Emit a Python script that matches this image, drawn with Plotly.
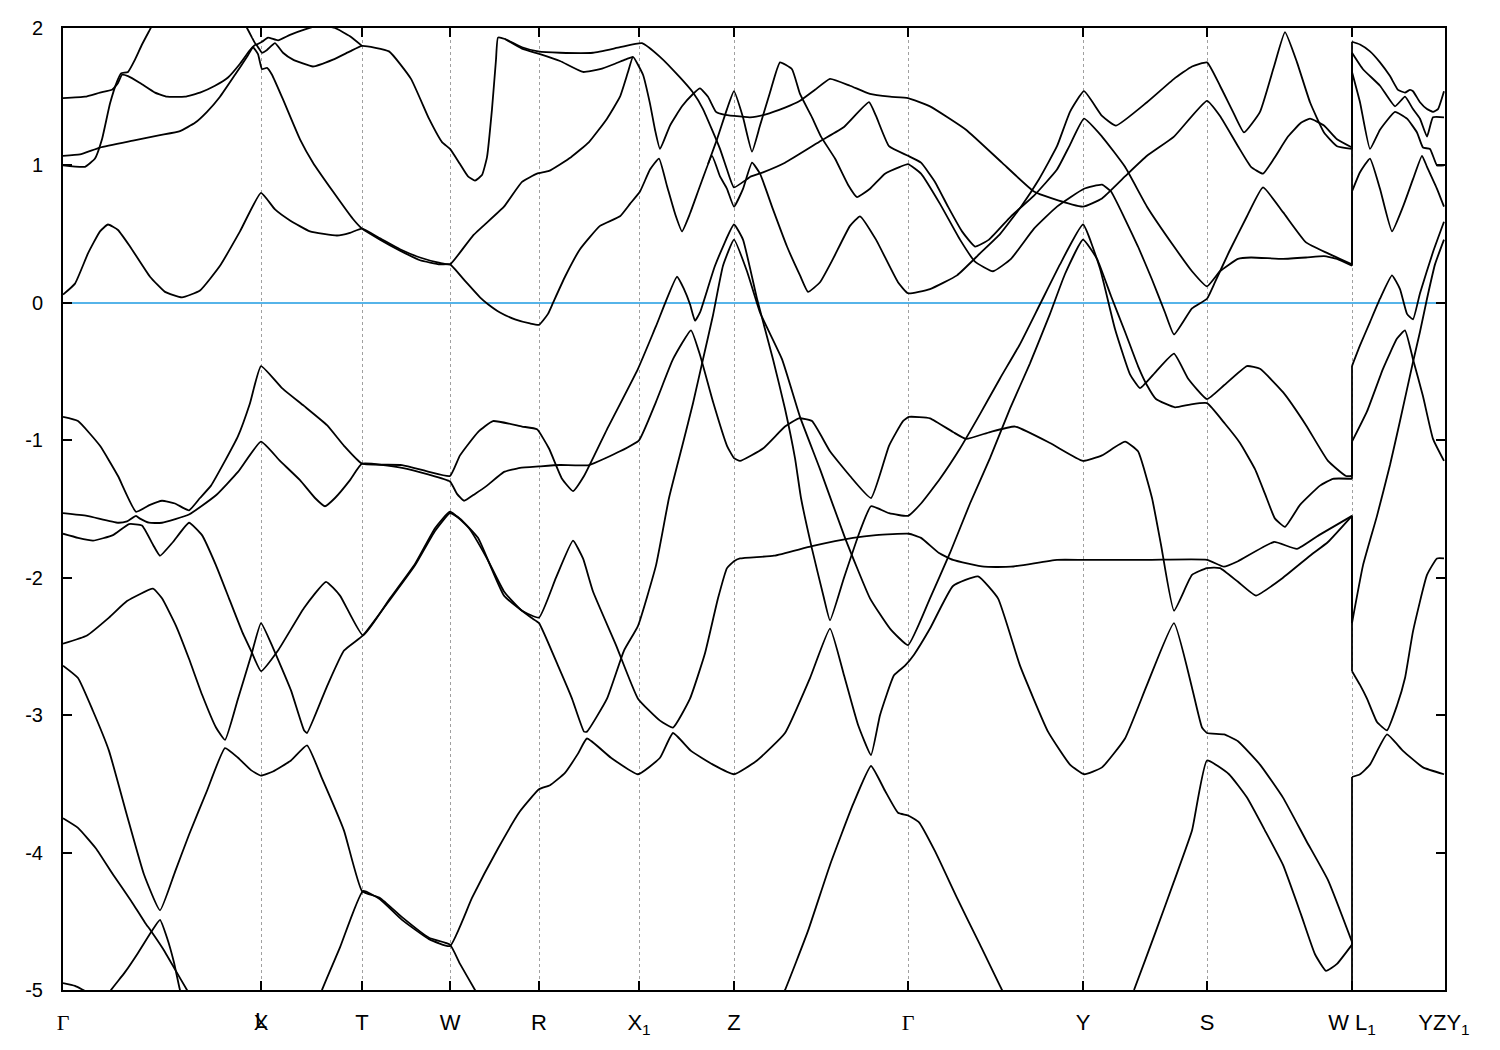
import plotly.graph_objects as go

# ---------------- k-path (path distance units) ----------------
kpts = [0, 198, 299, 387, 476, 576, 671, 845, 1020, 1144, 1289, 1381]
klabels = ['<span style="font-family:Liberation Serif">Γ</span>', "X", "T", "W", "R",
           "X<sub>1</sub>", "Z", '<span style="font-family:Liberation Serif">Γ</span>',
           "Y", "S", "W L<sub>1</sub>", "YZY<sub>1</sub>"]
k_overlap = 198          # L coincides with X on the path
k_overlap_label = "L"

e_ticks = [-5, -4, -3, -2, -1, 0, 1, 2]
e_ticktext = ["-5", "-4", "-3", "-2", "-1", "0", "1", "2"]

# ---------------- bands (k, E in eV) ----------------
band_a_k = [0,12,25,37,45,55,67,87,102,119,137,157,177,198,212,227,247,274,287,299,317,337,357,377,387,410,441,459,474,486,
            508,526,544,557,565,570,580,587,592,597,607,619,630,637,645,653,661,671,687,702,722,737,752,767,787,807,827,845,867,903,
            939,971,989,1020,1039,1062,1084,1111,1144,1157,1175,1188,1200,1211,1225,1238,1247,1261,1274,1289,1289,1300,1317,1332,1342,1350,1357,1364,1370,1381]
band_a_e = [0.06,0.14,0.36,0.52,0.57,0.53,0.41,0.19,0.08,0.04,0.09,0.27,0.52,0.80,0.68,0.60,0.52,0.49,0.51,0.54,0.47,0.39,0.33,0.29,0.28,0.49,0.70,0.88,0.94,0.96,
            1.06,1.17,1.34,1.50,1.68,1.79,1.66,1.45,1.26,1.12,1.29,1.43,1.52,1.56,1.50,1.39,1.37,1.36,1.35,1.37,1.42,1.47,1.55,1.63,1.58,1.52,1.50,1.49,1.43,1.26,
            1.02,0.81,0.76,0.70,0.76,0.92,1.07,1.21,1.47,1.36,1.14,0.99,0.94,1.05,1.21,1.31,1.34,1.29,1.19,1.13,1.82,1.70,1.58,1.43,1.50,1.41,1.34,1.21,1.35,1.35]

band_b_k = [0,22,32,39,47,54,58,65,72,79,87,95]
band_b_e = [1.00,0.99,1.05,1.19,1.45,1.61,1.67,1.68,1.77,1.88,1.99,2.10]

band_c_k = [0,22,37,49,55,59,65,77,92,104,122,137,152,165,177,187,193,199,204,212,220,230,250,270,287,299,326,348,366,379,387,
            397,405,412,419,424,429,433,435,442,459,475,497,530,557,579,597,617,630,640,649,657,664,671,
            688,700,722,758,781,806,813,826,845,
            858,872,885,899,912,926,948,971,994,1007,1021,
            1039,1062,1084,1111,1129,1144,1157,1175,1188,1220,1243,1261,1274,1289,
            1289,1297,1307,1317,1329,1340,1350,1359,1364,1374,1381]
band_c_e = [1.49,1.50,1.53,1.55,1.60,1.66,1.65,1.60,1.53,1.50,1.50,1.53,1.58,1.64,1.74,1.84,1.88,1.82,1.84,1.89,1.82,1.77,1.72,1.77,1.83,1.87,1.83,1.63,1.34,1.17,1.12,
            1.01,0.92,0.89,0.93,1.06,1.41,1.77,1.93,1.92,1.86,1.83,1.82,1.82,1.86,1.89,1.79,1.64,1.53,1.41,1.26,1.12,0.97,0.84,
            0.92,0.95,1.02,1.18,1.28,1.46,1.36,1.14,1.07,
            1.02,0.88,0.70,0.52,0.41,0.46,0.63,0.78,0.97,1.15,1.34,
            1.21,0.99,0.70,0.41,0.23,0.12,0.23,0.32,0.33,0.32,0.33,0.34,0.32,0.27,
            0.81,0.95,1.05,0.83,0.52,0.70,0.90,1.07,0.99,0.83,0.70]

band_d_k = [0,17,37,70,97,117,132,144,157,172,184,190,195,199,204,209,220,237,250,270,290,299,
            317,337,357,377,387,402,417,425,437,452,467,476,
            485,490,502,517,537,557,567,577,587,596,604,612,619,627,637,649,657,664,671,
            680,689,697,710,724,737,745,757,770,787,797,813,835,845,
            867,894,917,937,958,976,994,1007,1021,
            1039,1053,1084,1111,1129,1144,1157,1170,1181,1197,1211,1222,1234,1247,1261,1274,1289,
            1289,1297,1307,1317,1327,1335,1342,1347,1350,1357,1364,1370,1375,1381]
band_d_e = [1.07,1.08,1.13,1.18,1.22,1.25,1.31,1.39,1.50,1.66,1.79,1.86,1.81,1.70,1.71,1.66,1.48,1.19,1.02,0.81,0.61,0.54,
            0.46,0.38,0.31,0.28,0.28,0.16,0.04,-0.01,-0.07,-0.12,-0.15,-0.16,
            -0.08,0.00,0.19,0.39,0.56,0.63,0.72,0.81,0.97,1.05,0.85,0.65,0.52,0.65,0.85,1.07,0.92,0.83,0.70,
            0.83,1.02,0.94,0.68,0.41,0.20,0.08,0.15,0.32,0.56,0.63,0.46,0.15,0.07,
            0.10,0.20,0.36,0.50,0.70,0.90,1.14,1.39,1.54,
            1.36,1.29,1.46,1.63,1.72,1.75,1.58,1.39,1.24,1.39,1.72,1.97,1.75,1.46,1.24,1.14,1.12,
            1.90,1.88,1.83,1.75,1.65,1.55,1.53,1.55,1.54,1.46,1.41,1.39,1.41,1.54]

band_e_k = [177,184,189,193,199,205,215,227,242,257,272,287,299]
band_e_e = [2.09,2.00,1.93,1.88,1.90,1.93,1.91,1.95,1.99,2.02,2.00,1.94,1.87]

band_g_k = [442,459,477,497,520,537,552,562,570]
band_g_e = [1.92,1.85,1.81,1.76,1.68,1.70,1.74,1.77,1.79]

band_h_k = [645,654,664,671,680,689,697,707,717,729,737,749,758,772,785,794,807,822,837,845,
            858,877,897,912,930,948,971,994,1021,1039,1048,1062,1075,1089,1102,1111,1129,1144,1152,1166,
            1184,1200,1220,1243,1265,1289,1289,1297,1307,1317,1332,1344,1354,1360,1367,1374,1381]
band_h_e = [1.01,1.19,1.41,1.54,1.35,1.10,1.29,1.53,1.75,1.70,1.52,1.35,1.21,1.05,0.86,0.77,0.83,0.94,0.99,1.01,
            0.94,0.72,0.46,0.30,0.23,0.32,0.54,0.70,0.83,0.86,0.81,0.61,0.41,0.17,-0.07,-0.23,-0.04,0.03,0.15,0.37,
            0.63,0.84,0.66,0.44,0.36,0.28,1.68,1.46,1.12,1.26,1.39,1.34,1.24,1.13,1.12,1.00,1.00]

band_j_k = [0,15,37,55,73,87,99,112,126,137,148,162,175,187,198,219,241,264,281,299,339,366,387,
            397,415,430,459,474,486,499,510,521,544,575,593,614,621,627,632,637,652,671,
            680,694,710,722,732,738,749,761,767,781,797,808,826,845,
            858,877,897,917,937,957,977,997,1020,
            1037,1052,1067,1077,1093,1111,1125,1144,1161,1184,1197,1220,1243,1265,1283,1289,
            1289,1297,1307,1317,1329,1337,1344,1350,1357,1370,1381]
band_j_e = [-0.83,-0.86,-1.04,-1.26,-1.52,-1.47,-1.44,-1.46,-1.51,-1.42,-1.33,-1.15,-0.97,-0.73,-0.46,-0.62,-0.75,-0.89,-1.04,-1.17,-1.18,-1.23,-1.26,
            -1.11,-0.94,-0.86,-0.90,-0.92,-1.06,-1.28,-1.37,-1.26,-0.92,-0.48,-0.17,0.19,0.10,-0.01,-0.13,-0.07,0.27,0.57,
            0.46,0.03,-0.41,-0.77,-1.13,-1.42,-1.79,-2.15,-2.31,-2.00,-1.66,-1.48,-1.53,-1.55,
            -1.46,-1.28,-1.06,-0.81,-0.55,-0.30,-0.01,0.28,0.57,
            0.25,-0.19,-0.52,-0.62,-0.50,-0.37,-0.55,-0.70,-0.60,-0.46,-0.48,-0.65,-0.89,-1.15,-1.26,-1.26,
            -0.46,-0.31,-0.14,0.03,0.20,0.10,-0.08,-0.12,0.07,0.37,0.59]

band_k_k = [0,24,55,64,73,77,86,99,126,153,175,198,217,237,252,262,272,287,299,339,366,387,
            394,401,412,424,441,457,476,497,526,557,576,593,610,628,637,650,664,671,
            677,700,722,736,749,767,787,808,826,840,846,
            867,890,903,927,952,987,1020,
            1039,1062,1075,1089,1098,1111,1129,1144,1157,1175,1193,1220,1247,1265,1289,
            1289,1297,1304,1314,1324,1334,1342,1350,1364,1374,1381]
band_k_e = [-1.53,-1.55,-1.60,-1.59,-1.55,-1.57,-1.60,-1.60,-1.54,-1.40,-1.23,-1.01,-1.15,-1.29,-1.42,-1.48,-1.42,-1.29,-1.17,-1.20,-1.25,-1.30,
            -1.39,-1.44,-1.39,-1.33,-1.23,-1.20,-1.19,-1.18,-1.18,-1.08,-1.00,-0.72,-0.41,-0.20,-0.38,-0.72,-1.04,-1.13,
            -1.15,-1.06,-0.90,-0.84,-0.86,-1.08,-1.26,-1.42,-1.04,-0.86,-0.83,
            -0.84,-0.94,-0.99,-0.94,-0.90,-1.02,-1.15,
            -1.11,-1.01,-1.08,-1.42,-1.76,-2.24,-1.98,-1.93,-1.93,-2.03,-2.13,-2.00,-1.84,-1.74,-1.55,
            -2.68,-2.78,-2.88,-3.05,-3.11,-2.93,-2.73,-2.39,-1.98,-1.86,-1.86]

band_l_k = [0,15,30,50,66,79,90,97,110,126,139,153,166,179,188,198,215,241,263,277,300,327,352,372,387,
            406,424,441,459,476,493,510,520,530,553,575,597,610,627,642,655,664,671,
            677,711,749,790,813,846,858,876,890,921,948,994,1021,1087,1144,1161,1175,1211,1234,1256,1289,
            1289,1300,1314,1327,1337,1350,1357,1364,1372,1381]
band_l_e = [-1.68,-1.71,-1.73,-1.69,-1.61,-1.62,-1.76,-1.84,-1.74,-1.60,-1.69,-1.91,-2.15,-2.39,-2.53,-2.68,-2.53,-2.22,-2.03,-2.13,-2.42,-2.15,-1.90,-1.64,-1.52,
            -1.64,-1.86,-2.10,-2.24,-2.29,-2.00,-1.73,-1.86,-2.10,-2.49,-2.88,-3.04,-3.09,-2.88,-2.55,-2.15,-1.93,-1.88,
            -1.86,-1.84,-1.77,-1.71,-1.69,-1.68,-1.71,-1.82,-1.87,-1.92,-1.92,-1.87,-1.87,-1.87,-1.87,-1.92,-1.88,-1.74,-1.79,-1.69,-1.55,
            -2.33,-1.91,-1.55,-1.18,-0.86,-0.43,-0.21,0.03,0.28,0.46]

band_m_k = [0,24,46,64,90,99,113,126,139,153,162,175,188,198,210,228,241,244,264,281,300,327,352,372,387,
            397,415,441,468,476,495,509,521,524,544,561,575,593,606,620,630,640,650,660,671,
            684,697,719,737,757,782,807,827,845,
            867,887,907,927,947,967,987,1002,1020,
            1034,1048,1062,1075,1084,1093,1112,1127,1144,1162,1177,1192,1202,1212,1222,1237,1257,1270,1289,
            1289,1304,1320,1334,1342,1350,1360,1370,1381]
band_m_e = [-2.48,-2.42,-2.29,-2.17,-2.08,-2.15,-2.35,-2.59,-2.85,-3.09,-3.18,-2.88,-2.57,-2.33,-2.51,-2.82,-3.11,-3.13,-2.79,-2.53,-2.42,-2.16,-1.91,-1.66,-1.53,
            -1.57,-1.71,-2.13,-2.29,-2.33,-2.64,-2.88,-3.12,-3.12,-2.88,-2.53,-2.35,-1.91,-1.42,-1.02,-0.73,-0.41,-0.09,0.27,0.46,
            0.23,-0.07,-0.41,-0.83,-1.21,-1.71,-2.15,-2.37,-2.49,
            -2.15,-1.82,-1.46,-1.13,-0.77,-0.44,-0.08,0.21,0.46,
            0.32,0.05,-0.21,-0.46,-0.60,-0.70,-0.76,-0.74,-0.73,-0.88,-1.02,-1.21,-1.39,-1.57,-1.63,-1.47,-1.33,-1.28,-1.28,
            -1.01,-0.79,-0.48,-0.26,-0.20,-0.41,-0.68,-0.99,-1.15]

band_p_k = [0,15,30,46,64,81,97,112,126,144,162,175,188,198,210,228,244,259,281,299,317,339,366,387,397,412,419]
band_p_e = [-2.64,-2.73,-2.97,-3.26,-3.73,-4.16,-4.42,-4.14,-3.87,-3.55,-3.24,-3.31,-3.40,-3.44,-3.41,-3.33,-3.22,-3.46,-3.84,-4.28,-4.33,-4.47,-4.62,-4.67,-4.81,-5.00,-5.09]

band_q_k = [255,259,277,300,317,339,366,387,409,435,457,476,487,502,515,524,548,575,597,610,
            628,650,671,694,722,747,767,781,795,808,817,831,842,851,867,890,915,935,957,985,
            1007,1021,1039,1062,1084,1111,1129,1139,1144,1161,1175,1197,1220,1243,1265,1289,1289]
band_q_e = [-5.10,-5.00,-4.69,-4.28,-4.34,-4.49,-4.63,-4.68,-4.33,-3.97,-3.70,-3.54,-3.51,-3.42,-3.28,-3.17,-3.31,-3.43,-3.31,-3.13,
            -3.26,-3.36,-3.43,-3.33,-3.13,-2.73,-2.37,-2.71,-3.07,-3.29,-3.00,-2.71,-2.64,-2.56,-2.37,-2.06,-1.99,-2.15,-2.64,-3.12,
            -3.36,-3.43,-3.38,-3.17,-2.78,-2.33,-2.80,-3.09,-3.13,-3.14,-3.19,-3.36,-3.60,-3.91,-4.20,-4.65,-5.30]

band_u_k = [718,722,745,767,790,808,822,835,845,856,872,894,917,939,943]
band_u_e = [-5.05,-5.00,-4.57,-4.09,-3.65,-3.37,-3.55,-3.71,-3.73,-3.78,-3.99,-4.33,-4.67,-5.00,-5.05]

band_v_k = [1068,1071,1093,1111,1129,1144,1166,1184,1202,1220,1238,1252,1263,1274,1289,1289,1297,1307,1324,1340,1360,1381]
band_v_e = [-5.05,-5.00,-4.57,-4.21,-3.84,-3.33,-3.43,-3.60,-3.84,-4.09,-4.45,-4.74,-4.86,-4.81,-4.67,-3.45,-3.43,-3.36,-3.14,-3.26,-3.38,-3.43]

band_r_k = [0,15,33,50,68,82,88,100,112,124,128]
band_r_e = [-3.75,-3.82,-3.97,-4.16,-4.35,-4.51,-4.57,-4.70,-4.85,-5.00,-5.05]

band_s_k = [44,48,62,75,88,97,104,111,117,120]
band_s_e = [-5.05,-5.00,-4.87,-4.73,-4.58,-4.49,-4.62,-4.80,-5.00,-5.05]

band_t_k = [0,12,25,29]
band_t_e = [-4.95,-4.97,-5.02,-5.05]

bands = [
    (band_a_k, band_a_e), (band_b_k, band_b_e), (band_c_k, band_c_e), (band_d_k, band_d_e),
    (band_e_k, band_e_e), (band_g_k, band_g_e), (band_h_k, band_h_e), (band_j_k, band_j_e),
    (band_k_k, band_k_e), (band_l_k, band_l_e), (band_m_k, band_m_e), (band_p_k, band_p_e),
    (band_q_k, band_q_e), (band_u_k, band_u_e), (band_v_k, band_v_e), (band_r_k, band_r_e),
    (band_s_k, band_s_e), (band_t_k, band_t_e),
]

LINE = dict(color="black", width=1.8)

def pieces(kk, ee):
    """Split a band at the W|L1 discontinuity: smooth parts + straight jump."""
    out, start = [], 0
    for i in range(1, len(kk)):
        if kk[i] == kk[i - 1]:
            out.append((kk[start:i], ee[start:i], "spline"))
            out.append((kk[i - 1:i + 1], ee[i - 1:i + 1], "linear"))
            start = i
    out.append((kk[start:], ee[start:], "spline"))
    return out

fig = go.Figure()
for i, (kk, ee) in enumerate(bands):
    assert len(kk) == len(ee), (i, len(kk), len(ee))
    for pk, pe, shape in pieces(kk, ee):
        if len(pk) < 2:
            continue
        fig.add_trace(go.Scatter(x=pk, y=pe, mode="lines",
                                 line=dict(LINE, shape=shape, smoothing=0.4),
                                 hoverinfo="skip", showlegend=False))

font_main = "Liberation Sans, Arial, sans-serif"
fig.update_layout(
    width=1500, height=1050,
    margin=dict(l=63, r=55, t=28, b=58),
    paper_bgcolor="white", plot_bgcolor="white",
    font=dict(family=font_main, color="black"),
)
fig.update_xaxes(
    range=[0, 1382], tickmode="array", tickvals=kpts, ticktext=klabels,
    ticks="inside", ticklen=9, tickwidth=1.5, tickcolor="black",
    showline=True, linecolor="black", linewidth=2, mirror="allticks",
    showgrid=True, gridcolor="#a0a0a0", gridwidth=1, griddash="3px,3px",
    zeroline=False, tickangle=0, tickfont=dict(size=22, family=font_main, color="black"),
    ticklabelstandoff=12,
)
fig.update_yaxes(
    range=[-5, 2], tickmode="array", tickvals=e_ticks, ticktext=e_ticktext,
    ticks="inside", ticklen=9, tickwidth=1.5, tickcolor="black",
    showline=True, linecolor="black", linewidth=2, mirror="allticks",
    showgrid=False, zeroline=True, zerolinecolor="#56b4e9", zerolinewidth=2,
    tickfont=dict(size=20, family=font_main, color="black"),
    ticklabelstandoff=14,
)
# second label sharing the X position (X and L coincide on the path)
fig.add_annotation(x=k_overlap, y=0, xref="x", yref="paper", text=k_overlap_label,
                   showarrow=False, yanchor="middle", yshift=-30,
                   font=dict(size=22, family=font_main, color="black"))

fig.write_html("out.html", config={"displayModeBar": False},
               post_script="document.body.style.margin='0';")
